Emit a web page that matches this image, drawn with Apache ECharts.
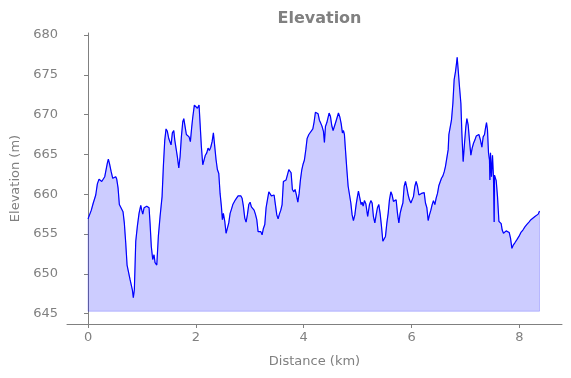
<!DOCTYPE html>
<html>
<head>
<meta charset="utf-8">
<script src="https://cdn.jsdelivr.net/npm/echarts@6/dist/echarts.min.js"></script>
<style>html,body{margin:0;padding:0;background:#fff}#c{width:571px;height:378px}</style>
</head>
<body>
<div id="c"></div>
<script>
const distanceKm = [0.000,0.024,0.061,0.093,0.111,0.143,0.173,0.204,0.228,0.254,0.278,0.310,0.334,0.358,0.377,0.403,0.427,0.458,0.482,0.514,0.532,0.557,0.581,0.618,0.649,0.673,0.699,0.724,0.755,0.779,0.803,0.822,0.840,0.859,0.885,0.915,0.946,0.978,0.996,1.015,1.039,1.071,1.089,1.113,1.132,1.150,1.174,1.200,1.224,1.243,1.275,1.304,1.336,1.373,1.397,1.423,1.447,1.471,1.497,1.521,1.540,1.564,1.590,1.609,1.633,1.657,1.683,1.707,1.731,1.757,1.776,1.800,1.824,1.850,1.874,1.898,1.924,1.943,1.972,2.004,2.028,2.059,2.078,2.102,2.128,2.152,2.176,2.202,2.226,2.250,2.276,2.301,2.325,2.351,2.375,2.399,2.425,2.449,2.473,2.492,2.510,2.536,2.560,2.584,2.610,2.635,2.659,2.685,2.709,2.733,2.759,2.783,2.807,2.833,2.857,2.881,2.907,2.931,2.955,2.981,3.006,3.030,3.056,3.080,3.104,3.130,3.154,3.178,3.204,3.228,3.252,3.278,3.302,3.327,3.353,3.377,3.401,3.427,3.451,3.475,3.501,3.525,3.549,3.575,3.599,3.623,3.649,3.673,3.698,3.724,3.742,3.766,3.790,3.816,3.840,3.865,3.891,3.915,3.939,3.965,3.989,4.013,4.039,4.063,4.095,4.132,4.169,4.193,4.217,4.243,4.267,4.291,4.317,4.341,4.366,4.384,4.403,4.429,4.453,4.471,4.495,4.521,4.545,4.570,4.596,4.620,4.644,4.670,4.694,4.718,4.737,4.755,4.774,4.800,4.824,4.848,4.874,4.898,4.922,4.948,4.972,4.996,5.015,5.041,5.065,5.083,5.102,5.126,5.152,5.186,5.219,5.245,5.269,5.293,5.319,5.343,5.367,5.393,5.417,5.442,5.468,5.492,5.516,5.542,5.566,5.590,5.616,5.640,5.664,5.690,5.714,5.739,5.764,5.788,5.813,5.839,5.863,5.887,5.913,5.937,5.961,5.987,6.011,6.035,6.061,6.085,6.110,6.136,6.160,6.184,6.210,6.234,6.258,6.284,6.308,6.332,6.358,6.382,6.406,6.432,6.456,6.481,6.507,6.531,6.555,6.581,6.605,6.629,6.655,6.679,6.692,6.716,6.740,6.766,6.790,6.815,6.833,6.846,6.865,6.889,6.915,6.933,6.957,6.982,7.007,7.026,7.050,7.074,7.100,7.124,7.149,7.174,7.199,7.223,7.249,7.278,7.304,7.328,7.353,7.371,7.390,7.408,7.427,7.445,7.453,7.464,7.482,7.501,7.519,7.532,7.538,7.570,7.594,7.620,7.644,7.662,7.681,7.705,7.731,7.755,7.787,7.811,7.835,7.861,7.885,7.916,7.954,7.991,8.028,8.065,8.102,8.139,8.177,8.214,8.251,8.288,8.325,8.349,8.373];
const elevationM = [656.9,656.7,658.0,658.8,658.9,659.9,661.3,661.9,662.0,661.6,661.8,662.2,662.3,663.9,664.4,663.7,662.9,662.0,662.1,662.2,661.9,660.8,658.7,658.5,657.8,656.4,653.9,651.1,651.0,649.3,649.2,648.0,647.0,648.0,654.1,656.0,657.6,658.6,658.0,657.5,658.3,658.1,658.5,658.7,658.3,656.4,653.4,651.8,652.4,651.4,651.1,654.7,657.2,659.7,663.5,666.8,668.2,667.9,667.0,667.2,666.2,667.7,668.0,666.8,666.6,664.7,663.3,664.7,667.2,669.1,669.5,668.5,667.5,667.7,667.2,666.6,668.5,669.7,671.2,671.0,670.8,671.2,668.9,666.0,663.7,663.9,664.9,665.2,665.8,665.5,665.9,666.6,667.7,667.5,664.3,663.1,662.6,660.1,658.5,656.8,657.6,656.6,655.1,655.1,656.4,657.6,658.1,658.7,658.9,659.3,659.5,659.8,659.7,659.8,659.5,658.5,657.0,656.5,657.4,658.7,659.0,658.4,658.2,658.0,657.5,656.8,655.3,655.5,655.3,654.9,655.7,656.2,658.3,659.3,660.3,660.5,659.8,659.7,659.9,658.7,657.4,656.9,657.5,658.0,658.7,661.6,661.8,661.8,661.9,663.1,663.3,662.7,660.6,660.3,660.6,659.9,659.0,660.1,661.8,663.1,663.8,664.3,665.6,667.0,667.5,667.7,668.2,669.1,670.3,670.4,670.1,669.3,668.9,668.5,667.9,666.5,668.5,669.0,669.1,670.2,669.8,668.6,668.0,667.9,669.1,669.3,670.2,669.7,668.9,667.7,668.0,667.5,665.6,663.1,661.0,660.8,658.9,657.4,656.7,657.4,658.7,659.7,660.4,659.5,658.7,659.0,658.5,659.2,658.8,657.2,658.7,659.2,658.9,657.2,656.4,657.4,658.3,658.7,657.6,656.0,654.1,654.1,654.7,656.4,657.6,659.3,660.3,659.9,659.1,658.9,659.3,657.6,656.4,657.6,658.3,658.9,661.0,661.6,660.8,659.9,659.3,658.9,659.1,659.7,661.0,661.6,661.0,659.9,659.9,660.1,660.3,660.2,658.9,658.3,656.7,657.4,658.0,658.7,659.2,658.7,659.5,660.1,661.1,661.2,662.0,662.3,662.8,663.5,663.3,665.6,667.5,667.5,669.3,671.4,674.4,675.4,676.4,677.2,675.6,673.5,671.4,667.7,664.1,666.4,668.5,669.5,668.7,666.8,664.9,665.8,666.4,666.8,667.3,667.2,667.5,666.8,665.9,667.2,667.5,668.3,669.0,668.1,665.2,664.3,661.8,665.2,662.2,664.9,662.2,656.5,662.4,661.7,659.7,656.6,656.4,656.3,655.5,655.1,655.1,655.4,655.4,655.2,654.5,653.2,653.6,653.9,654.3,654.7,655.2,655.5,655.9,656.2,656.5,656.8,657.0,657.2,657.3,657.5,657.9];
const xTicks = [0, 2, 4, 6, 8];
const yTicks = [645, 650, 655, 660, 665, 670, 675, 680];
const fillBase = 645.3;

const linePts = distanceKm.map((d, i) => [d, elevationM[i]]);
const n = distanceKm.length;
const fillPts = [[distanceKm[0], fillBase]].concat(linePts, [[distanceKm[n - 1], fillBase], [distanceKm[0], fillBase]]);

const gray = '#808080';
const font = 'DejaVu Sans';
const chart = echarts.init(document.getElementById('c'), null, {renderer: 'canvas'});
chart.setOption({
  animation: false,
  backgroundColor: '#ffffff',
  title: {
    text: 'Elevation', left: 314.5, top: 6, textAlign: 'center',
    textStyle: {color: gray, fontFamily: font, fontWeight: 'bold', fontSize: 16}
  },
  grid: {left: 67, right: 9, top: 33, bottom: 54, containLabel: false},
  xAxis: {
    type: 'value', min: -0.39, max: 8.79,
    name: 'Distance (km)', nameLocation: 'middle', nameGap: 31,
    nameTextStyle: {color: gray, fontFamily: font, fontSize: 13},
    axisLine: {show: true, lineStyle: {color: gray, width: 1}},
    axisTick: {show: true, length: 4, lineStyle: {color: gray}, customValues: xTicks},
    axisLabel: {color: gray, fontFamily: font, fontSize: 13, margin: 7, customValues: xTicks},
    splitLine: {show: false}
  },
  yAxis: {
    type: 'value', min: 643.7, max: 680.25,
    name: 'Elevation (m)', nameLocation: 'middle', nameGap: 44,
    nameTextStyle: {color: gray, fontFamily: font, fontSize: 13},
    axisLine: {show: true, lineStyle: {color: gray, width: 1}},
    axisTick: {show: true, length: 4, lineStyle: {color: gray}, customValues: yTicks},
    axisLabel: {color: gray, fontFamily: font, fontSize: 13, margin: 9, customValues: yTicks},
    splitLine: {show: false}
  },
  series: [
    {
      type: 'line', data: fillPts, showSymbol: false, symbol: 'none',
      lineStyle: {color: 'rgba(0,0,255,0.2)', width: 1},
      areaStyle: {color: 'rgba(0,0,255,0.2)', origin: fillBase, opacity: 1},
      z: 1, silent: true
    },
    {
      type: 'line', data: linePts, showSymbol: false, symbol: 'none',
      lineStyle: {color: '#0000ff', width: 1.2},
      z: 3, silent: true
    }
  ]
});
</script>
</body>
</html>
